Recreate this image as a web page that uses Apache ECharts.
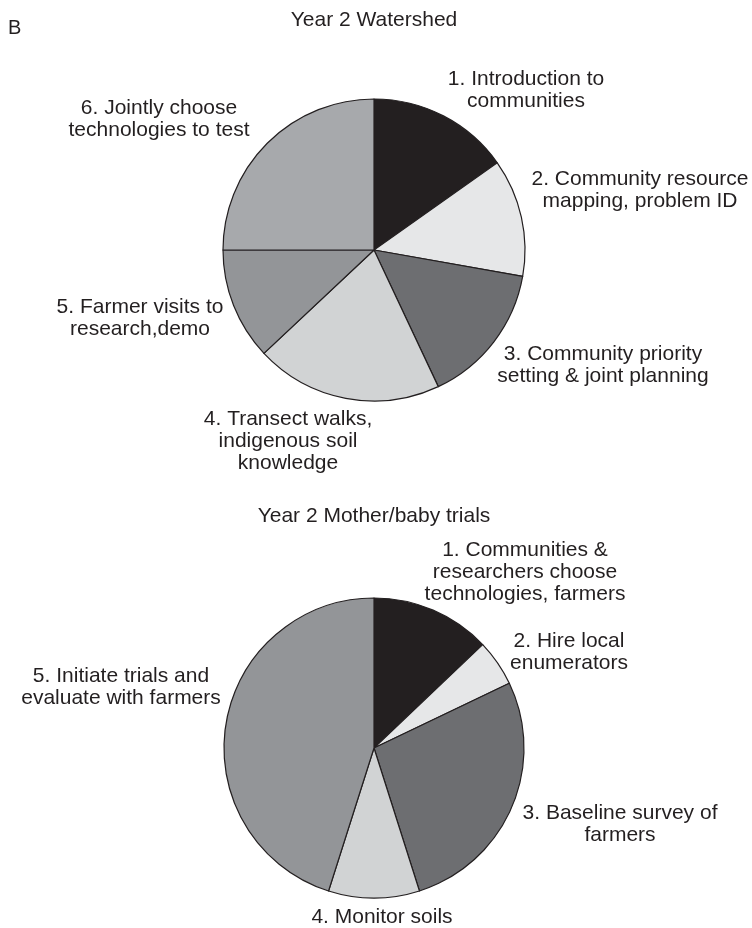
<!DOCTYPE html>
<html>
<head>
<meta charset="utf-8">
<style>
  html, body { margin: 0; padding: 0; background: #ffffff; }
  #chart { width: 752px; height: 928px; }
</style>
<script src="https://cdn.jsdelivr.net/npm/echarts@6/dist/echarts.min.js"></script>
</head>
<body>
<div id="chart"></div>
<script>
// ---- Data ----
const panelLetter = 'B';
const watershedTitle = 'Year 2 Watershed';
const watershedCategories = [
  '1. Introduction to\ncommunities',
  '2. Community resource\nmapping, problem ID',
  '3. Community priority\nsetting & joint planning',
  '4. Transect walks,\nindigenous soil\nknowledge',
  '5. Farmer visits to\nresearch,demo',
  '6. Jointly choose\ntechnologies to test'
];
const watershedValues = [15.2, 12.6, 15.2, 20.0, 12.0, 25.0];

const motherBabyTitle = 'Year 2 Mother/baby trials';
const motherBabyCategories = [
  '1. Communities &\nresearchers choose\ntechnologies, farmers',
  '2. Hire local\nenumerators',
  '3. Baseline survey of\nfarmers',
  '4. Monitor soils',
  '5. Initiate trials and\nevaluate with farmers'
];
const motherBabyValues = [12.9, 5.0, 27.2, 9.8, 45.1];

// ---- Styles / layout ----
const watershedColors = ['#231f20', '#e6e7e8', '#6d6e71', '#d1d3d4', '#939598', '#a7a9ac'];
const motherBabyColors = ['#231f20', '#e6e7e8', '#6d6e71', '#d1d3d4', '#939598'];
const watershedLabelPos = [[526, 90], [640, 190], [603, 365], [288, 441], [140, 318], [159, 119]];
const motherBabyLabelPos = [[525, 572], [569, 652], [620, 824], [382, 917], [121, 687]];

const FONT = '"Liberation Sans", Arial, Helvetica, sans-serif';
const TEXT_COLOR = '#231f20';
const FONT_SIZE = 21;
const LINE_H = 22;

function makeData(cats, vals, colors) {
  return cats.map((c, i) => ({ name: c, value: vals[i], itemStyle: { color: colors[i] } }));
}

function pieSeries(cats, vals, colors, center, radius, labelPos) {
  return {
    type: 'pie',
    center: center,
    radius: radius,
    startAngle: 90,
    clockwise: true,
    avoidLabelOverlap: false,
    silent: true,
    animation: false,
    data: makeData(cats, vals, colors),
    itemStyle: { borderColor: '#231f20', borderWidth: 1.2 },
    label: {
      show: true,
      position: 'outside',
      formatter: '{b}',
      fontFamily: FONT,
      fontSize: FONT_SIZE,
      lineHeight: LINE_H,
      color: TEXT_COLOR,
      align: 'center'
    },
    labelLine: { show: false },
    labelLayout: function (params) {
      const p = labelPos[params.dataIndex];
      return { x: p[0], y: p[1], align: 'center', verticalAlign: 'middle', hideOverlap: false };
    }
  };
}

const chart = echarts.init(document.getElementById('chart'), null, { renderer: 'canvas' });
chart.setOption({
  backgroundColor: '#ffffff',
  animation: false,
  title: [
    { text: panelLetter, left: 8, top: 18, padding: 0,
      textStyle: { fontFamily: FONT, fontSize: 20, fontWeight: 'normal', color: TEXT_COLOR } },
    { text: watershedTitle, left: 374, top: 10, padding: 0, textAlign: 'center',
      textStyle: { fontFamily: FONT, fontSize: FONT_SIZE, fontWeight: 'normal', color: TEXT_COLOR } },
    { text: motherBabyTitle, left: 374, top: 506, padding: 0, textAlign: 'center',
      textStyle: { fontFamily: FONT, fontSize: FONT_SIZE, fontWeight: 'normal', color: TEXT_COLOR } }
  ],
  series: [
    pieSeries(watershedCategories, watershedValues, watershedColors, [374, 250], 151, watershedLabelPos),
    pieSeries(motherBabyCategories, motherBabyValues, motherBabyColors, [374, 748], 150, motherBabyLabelPos)
  ]
});
</script>
</body>
</html>
